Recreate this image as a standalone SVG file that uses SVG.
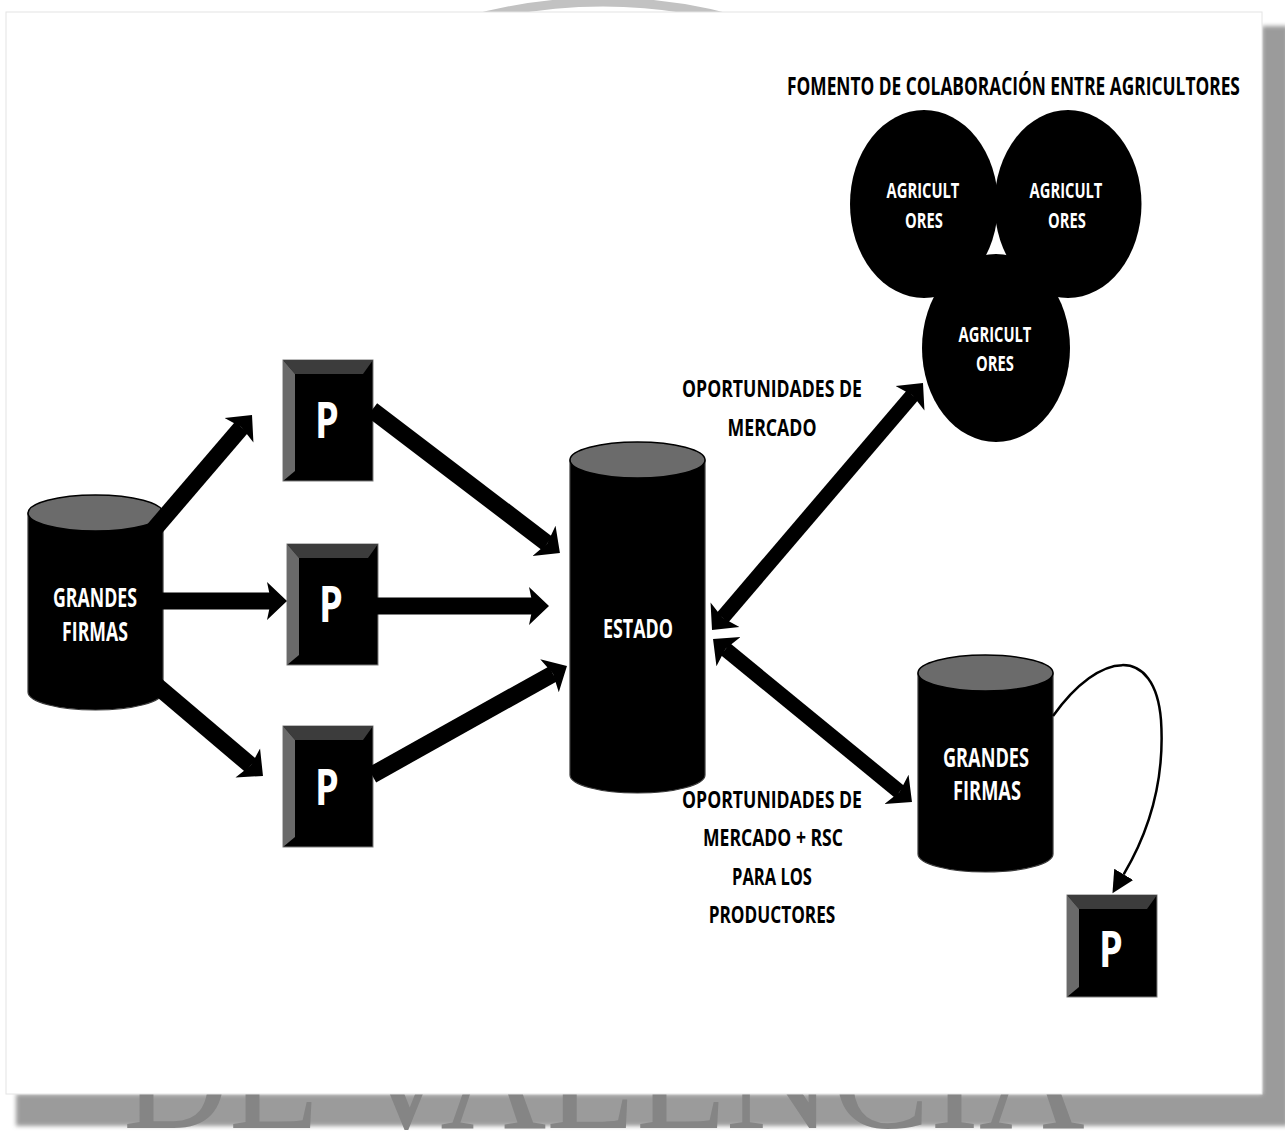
<svg xmlns="http://www.w3.org/2000/svg" width="1285" height="1131" viewBox="0 0 1285 1131">
<style>
.cyl-body{fill:#000;stroke:#3a3a3a;stroke-width:1.2}
.cyl-top{fill:#6b6b6b;stroke:#000;stroke-width:1.5}
.box{fill:#000;stroke:#7a7a7a;stroke-width:1}
.bev-top{fill:#3c3c3c}
.bev-left{fill:#6a6a6a}
.agri{fill:#000}
.wl{font-family:"Open Sans","Liberation Sans",sans-serif;font-weight:700;fill:#fff;text-anchor:middle}
.bl{font-family:"Open Sans","Liberation Sans",sans-serif;font-weight:700;fill:#000;text-anchor:middle}
.thick{stroke:#000;stroke-width:17;fill:none;marker-end:url(#head)}
.dbl{stroke:#000;stroke-width:15;fill:none;marker-start:url(#head);marker-end:url(#head)}
.curve{stroke:#000;stroke-width:2.5;fill:none;marker-end:url(#thin)}
</style>
<defs>
<marker id="head" markerUnits="userSpaceOnUse" viewBox="0 -20 22 40" refX="4" refY="0" markerWidth="22" markerHeight="40" orient="auto-start-reverse"><path d="M0,-19 L20,0 L0,19 L4,0 Z" fill="#000"/></marker>
<marker id="thin" markerUnits="userSpaceOnUse" viewBox="0 -12 24 24" refX="0" refY="0" markerWidth="24" markerHeight="24" orient="auto"><path d="M0,-11 L22,0 L0,11 Z" fill="#000"/></marker>
<filter id="soft" x="-5%" y="-5%" width="110%" height="110%"><feGaussianBlur stdDeviation="2"/></filter>
</defs>

<g id="background">
<rect width="1285" height="1131" fill="#fff"/>
<circle cx="603" cy="502" r="500" fill="none" stroke="#c2c2c2" stroke-width="9"/>
<g filter="url(#soft)">
<rect x="1262" y="26" width="26" height="1100" fill="#9b9b9b"/>
<rect x="16" y="1094" width="1272" height="32" fill="#9b9b9b"/>
</g>
<text x="123" y="1128" font-family="Liberation Serif, serif" font-size="150" fill="#858585" textLength="962" lengthAdjust="spacingAndGlyphs">DE VALENCIA</text>
<rect x="6" y="12" width="1256" height="1082" fill="#fff" stroke="#e4e4e4" stroke-width="1"/>
</g>

<g id="title">
<text class="bl" style="text-anchor:start" transform="translate(787,95) scale(0.7,1)" font-size="25" textLength="647" lengthAdjust="spacingAndGlyphs">FOMENTO DE COLABORACIÓN ENTRE AGRICULTORES</text>
</g>

<g id="grandes-firmas-left">
<path class="cyl-body" d="M28,513 L28,692 A67.5,18 0 0 0 163,692 L163,513 Z"/>
<ellipse class="cyl-top" cx="95.5" cy="513" rx="67.5" ry="18"/>
<text class="wl" transform="translate(95,607) scale(0.7,1)" font-size="27" textLength="120" lengthAdjust="spacingAndGlyphs">GRANDES</text>
<text class="wl" transform="translate(95,641) scale(0.7,1)" font-size="27" textLength="94" lengthAdjust="spacingAndGlyphs">FIRMAS</text>
</g>

<g id="estado">
<path class="cyl-body" d="M570,460 L570,775 A67.5,18 0 0 0 705,775 L705,460 Z"/>
<ellipse class="cyl-top" cx="637.5" cy="460" rx="67.5" ry="18"/>
<text class="wl" transform="translate(638,637.5) scale(0.7,1)" font-size="27" textLength="100" lengthAdjust="spacingAndGlyphs">ESTADO</text>
</g>

<g id="grandes-firmas-right">
<path class="cyl-body" d="M918,673 L918,854 A67.5,18 0 0 0 1053,854 L1053,673 Z"/>
<ellipse class="cyl-top" cx="985.5" cy="673" rx="67.5" ry="18"/>
<text class="wl" transform="translate(986,766.5) scale(0.7,1)" font-size="26" textLength="123" lengthAdjust="spacingAndGlyphs">GRANDES</text>
<text class="wl" transform="translate(987,799.5) scale(0.7,1)" font-size="26" textLength="97" lengthAdjust="spacingAndGlyphs">FIRMAS</text>
</g>

<g id="p1">
<rect class="box" x="283" y="360" width="90" height="121"/>
<polygon class="bev-top" points="283,360 373,360 363,374 295,374"/>
<polygon class="bev-left" points="283,360 295,374 295,471 283,481"/>
<text class="wl" transform="translate(327,438) scale(0.7,1)" font-size="50" textLength="34" lengthAdjust="spacingAndGlyphs">P</text>
</g>

<g id="p2">
<rect class="box" x="287" y="544" width="91" height="121"/>
<polygon class="bev-top" points="287,544 378,544 368,558 299,558"/>
<polygon class="bev-left" points="287,544 299,558 299,655 287,665"/>
<text class="wl" transform="translate(331,622) scale(0.7,1)" font-size="50" textLength="34" lengthAdjust="spacingAndGlyphs">P</text>
</g>

<g id="p3">
<rect class="box" x="283" y="726" width="90" height="121"/>
<polygon class="bev-top" points="283,726 373,726 363,740 295,740"/>
<polygon class="bev-left" points="283,726 295,740 295,837 283,847"/>
<text class="wl" transform="translate(327,805) scale(0.7,1)" font-size="50" textLength="34" lengthAdjust="spacingAndGlyphs">P</text>
</g>

<g id="p4">
<rect class="box" x="1067" y="895" width="90" height="102"/>
<polygon class="bev-top" points="1067,895 1157,895 1147,909 1079,909"/>
<polygon class="bev-left" points="1067,895 1079,909 1079,987 1067,997"/>
<text class="wl" transform="translate(1111,967) scale(0.7,1)" font-size="50" textLength="34" lengthAdjust="spacingAndGlyphs">P</text>
</g>

<g id="agricultores-left">
<ellipse class="agri" cx="924" cy="204" rx="74" ry="94"/>
<text class="wl" transform="translate(923,198) scale(0.7,1)" font-size="22" textLength="104" lengthAdjust="spacingAndGlyphs">AGRICULT</text>
<text class="wl" transform="translate(924,228) scale(0.7,1)" font-size="22" textLength="54" lengthAdjust="spacingAndGlyphs">ORES</text>
</g>
<g id="agricultores-right">
<ellipse class="agri" cx="1068" cy="204" rx="73.5" ry="94"/>
<text class="wl" transform="translate(1066,198) scale(0.7,1)" font-size="22" textLength="104" lengthAdjust="spacingAndGlyphs">AGRICULT</text>
<text class="wl" transform="translate(1067,228) scale(0.7,1)" font-size="22" textLength="54" lengthAdjust="spacingAndGlyphs">ORES</text>
</g>
<g id="agricultores-bottom">
<ellipse class="agri" cx="996" cy="348" rx="74" ry="94"/>
<text class="wl" transform="translate(995,342) scale(0.7,1)" font-size="22" textLength="104" lengthAdjust="spacingAndGlyphs">AGRICULT</text>
<text class="wl" transform="translate(995,371) scale(0.7,1)" font-size="22" textLength="54" lengthAdjust="spacingAndGlyphs">ORES</text>
</g>

<g id="connectors">
<path class="thick" d="M145,540 L241.6,427.2"/>
<path class="thick" d="M155,601 L271,601"/>
<path class="thick" d="M150,680 L250.8,765.6"/>
<path class="thick" d="M372,410 L547.2,543.4"/>
<path class="thick" d="M377,606 L533,606"/>
<path class="thick" d="M372,775 L553,673.8"/>
<path class="dbl" d="M722.4,617.8 L912.6,395.2"/>
<path class="dbl" d="M725.4,649.1 L899.6,791.9"/>
<path class="curve" d="M1053,716 C1100,650 1155,645 1161,720 C1165,780 1150,830 1123.7,874.3"/>
</g>

<g id="labels">
<text class="bl" transform="translate(772,396.5) scale(0.7,1)" font-size="24" textLength="257" lengthAdjust="spacingAndGlyphs">OPORTUNIDADES DE</text>
<text class="bl" transform="translate(772,435.5) scale(0.7,1)" font-size="24" textLength="127" lengthAdjust="spacingAndGlyphs">MERCADO</text>
<text class="bl" transform="translate(772,807.5) scale(0.7,1)" font-size="24" textLength="257" lengthAdjust="spacingAndGlyphs">OPORTUNIDADES DE</text>
<text class="bl" transform="translate(773,845.5) scale(0.7,1)" font-size="24" textLength="200" lengthAdjust="spacingAndGlyphs">MERCADO + RSC</text>
<text class="bl" transform="translate(772,884.5) scale(0.7,1)" font-size="24" textLength="114" lengthAdjust="spacingAndGlyphs">PARA LOS</text>
<text class="bl" transform="translate(772,922.5) scale(0.7,1)" font-size="24" textLength="181" lengthAdjust="spacingAndGlyphs">PRODUCTORES</text>
</g>
</svg>
